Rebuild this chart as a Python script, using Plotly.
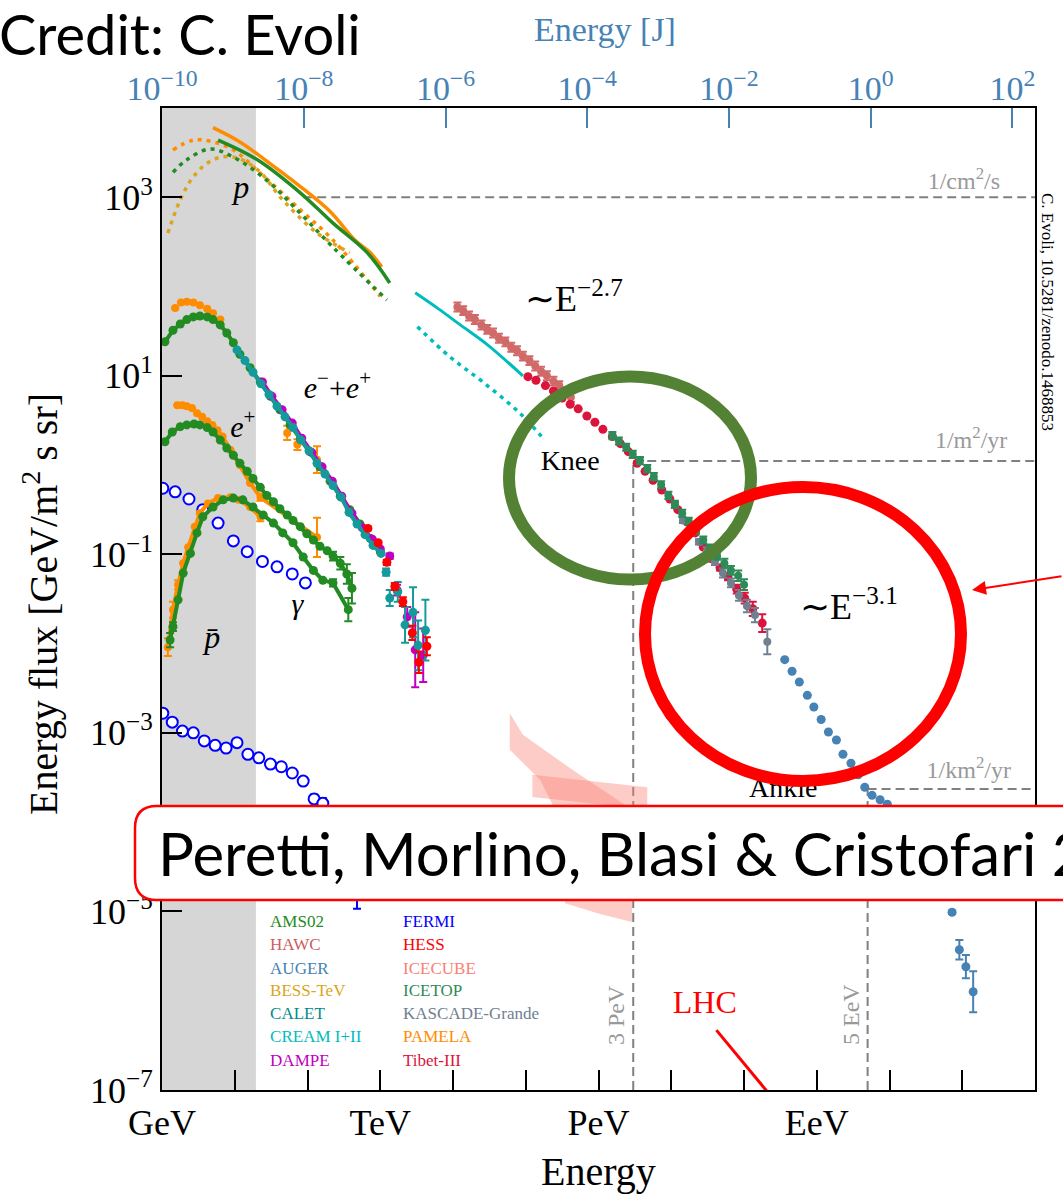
import plotly.graph_objects as go

SERIF = "Liberation Serif"
SANS = "Lato"

# ---------------- data: log10(E / GeV) and log10(energy flux / GeV m^-2 s^-1 sr^-1) ----------------
# protons (solid) and dotted curves
P_PAMELA_LGE = [0.70, 1.07, 1.48, 1.90, 2.31, 2.65, 2.86, 3.02]
P_PAMELA_LGF = [3.78, 3.62, 3.38, 3.12, 2.84, 2.52, 2.38, 2.22]
P_AMS_LGE = [0.77, 1.31, 1.90, 2.35, 2.82, 3.13]
P_AMS_LGF = [3.64, 3.42, 3.05, 2.71, 2.38, 2.04]
D_PAMELA_LGE = [0.15, 0.43, 0.70, 0.98, 1.35, 1.90, 2.35, 3.00]
D_PAMELA_LGF = [3.53, 3.64, 3.62, 3.53, 3.27, 2.86, 2.52, 1.89]
D_AMS_LGE = [0.15, 0.34, 0.66, 0.98, 1.44, 1.90, 2.35, 3.09]
D_AMS_LGF = [3.28, 3.42, 3.54, 3.45, 3.19, 2.82, 2.44, 1.85]
D_BESS_LGE = [0.08, 0.25, 0.43, 0.70, 0.98, 1.31, 1.66, 2.13, 2.58]
D_BESS_LGF = [2.60, 2.97, 3.23, 3.42, 3.45, 3.31, 2.97, 2.60, 2.38]
CREAM_S_LGE = [3.48, 3.80, 4.10, 4.47, 4.96]
CREAM_S_LGF = [1.93, 1.75, 1.57, 1.35, 1.00]
CREAM_D_LGE = [3.51, 3.96, 4.41, 4.92, 5.26]
CREAM_D_LGF = [1.55, 1.21, 0.93, 0.58, 0.28]

# all-particle spectrum
HAWC_LGE = [4.06, 4.14, 4.22, 4.30, 4.39, 4.47, 4.55, 4.63, 4.72, 4.80, 4.88, 4.96, 5.05, 5.13, 5.21, 5.29, 5.38, 5.46, 5.54, 5.62]
HAWC_LGF = [1.77, 1.73, 1.67, 1.63, 1.57, 1.52, 1.48, 1.42, 1.38, 1.32, 1.28, 1.22, 1.17, 1.11, 1.05, 1.00, 0.94, 0.89, 0.82, 0.76]
HAWC_ERR = [0.05] * 20
TIBET_LGE = [5.03, 5.14, 5.27, 5.38, 5.50, 5.61, 5.72, 5.84, 5.95, 6.06, 6.19, 6.30, 6.41, 6.53, 6.64, 6.75, 6.87, 6.98, 7.09, 7.22, 7.33, 7.44, 7.56, 7.67, 7.78, 7.90, 8.01, 8.12, 8.25]
TIBET_LGF = [0.99, 0.95, 0.89, 0.83, 0.75, 0.68, 0.63, 0.55, 0.48, 0.40, 0.32, 0.24, 0.15, 0.02, -0.07, -0.17, -0.28, -0.38, -0.50, -0.64, -0.76, -0.92, -1.05, -1.15, -1.25, -1.39, -1.49, -1.61, -1.77]
TIBET_ERR = [0.0] * 22 + [0.03, 0.03, 0.04, 0.05, 0.06, 0.08, 0.10]
ICETOP_LGE = [6.19, 6.28, 6.38, 6.47, 6.57, 6.67, 6.76, 6.86, 6.96, 7.05, 7.15, 7.24, 7.34, 7.44, 7.53, 7.63, 7.73, 7.82, 7.92, 8.00]
ICETOP_LGF = [0.33, 0.27, 0.20, 0.12, 0.05, -0.04, -0.13, -0.22, -0.34, -0.44, -0.54, -0.63, -0.73, -0.84, -0.93, -1.02, -1.10, -1.18, -1.24, -1.34]
ICETOP_ERR = [0.04] * 16 + [0.05, 0.05, 0.06, 0.06]
KASCADE_LGE = [7.05, 7.16, 7.27, 7.38, 7.49, 7.60, 7.71, 7.82, 7.93, 8.04, 8.15, 8.32]
KASCADE_LGF = [-0.45, -0.62, -0.75, -0.86, -0.96, -1.08, -1.21, -1.32, -1.46, -1.58, -1.68, -1.98]
KASCADE_ERR = [0.03, 0.03, 0.03, 0.03, 0.04, 0.04, 0.05, 0.05, 0.06, 0.07, 0.08, 0.14]
AUGER_LGE = [8.56, 8.66, 8.76, 8.87, 8.96, 9.06, 9.16, 9.27, 9.36, 9.47, 9.57, 9.66, 9.76, 9.87, 9.97, 10.08, 10.17, 10.28, 10.38, 10.48, 10.57, 10.67, 10.76, 10.86, 10.96, 11.05, 11.15]
AUGER_LGF = [-2.18, -2.31, -2.43, -2.58, -2.71, -2.85, -2.99, -3.08, -3.24, -3.34, -3.47, -3.61, -3.70, -3.75, -3.80, -3.89, -4.00, -4.11, -4.23, -4.37, -4.51, -4.65, -4.82, -5.01, -5.43, -5.62, -5.90]
AUGER_ERR = [0.0] * 23 + [0.02, 0.11, 0.13, 0.23]

# gamma rays (FERMI)
FERMI_DIF_LGE = [0.01, 0.18, 0.37, 0.56, 0.77, 0.98, 1.17, 1.38, 1.58, 1.79, 1.97]
FERMI_DIF_LGF = [-0.26, -0.30, -0.38, -0.50, -0.65, -0.85, -0.97, -1.08, -1.14, -1.22, -1.32]
FERMI_IGRB_LGE = [0.01, 0.14, 0.28, 0.43, 0.58, 0.73, 0.88, 1.03, 1.18, 1.33, 1.49, 1.64, 1.79, 1.94, 2.09, 2.21, 2.38, 2.53, 2.68]
FERMI_IGRB_LGF = [-2.78, -2.88, -2.98, -3.00, -3.09, -3.14, -3.17, -3.11, -3.24, -3.28, -3.35, -3.38, -3.45, -3.54, -3.74, -3.79, -3.98, -4.20, -4.59]
FERMI_IGRB_ERR = [0.04] * 14 + [0.05, 0.06, 0.10, 0.15, 0.38]

# electrons + positrons
EE_AMS_LGE = [0.04, 0.15, 0.25, 0.34, 0.43, 0.52, 0.62, 0.70, 0.80, 0.89, 0.98, 1.07, 1.21, 1.35, 1.49, 1.62, 1.76, 1.90, 2.03, 2.17, 2.31, 2.45, 2.58, 2.72, 2.86, 3.00]
EE_AMS_LGF = [1.38, 1.51, 1.58, 1.63, 1.66, 1.67, 1.66, 1.63, 1.57, 1.48, 1.37, 1.24, 1.09, 0.93, 0.77, 0.62, 0.45, 0.29, 0.15, -0.02, -0.18, -0.35, -0.50, -0.66, -0.82, -0.97]
EE_DAMPE_LGE = [1.38, 1.51, 1.65, 1.79, 1.92, 2.06, 2.20, 2.34, 2.47, 2.61, 2.75, 2.89, 3.00, 3.13, 3.23, 3.37, 3.48, 3.59]
EE_DAMPE_LGF = [0.93, 0.77, 0.62, 0.47, 0.30, 0.14, -0.02, -0.18, -0.35, -0.54, -0.70, -0.83, -0.94, -1.02, -1.40, -1.70, -2.07, -2.13]
EE_DAMPE_ERR = [0.0] * 12 + [0.02, 0.03, 0.06, 0.11, 0.42, 0.30]
EE_CALET_LGE = [1.03, 1.14, 1.25, 1.36, 1.47, 1.58, 1.69, 1.80, 1.91, 2.02, 2.13, 2.24, 2.35, 2.46, 2.57, 2.68, 2.79, 2.90, 3.01, 3.08, 3.13, 3.24, 3.34, 3.45, 3.52, 3.62]
EE_CALET_LGF = [1.29, 1.17, 1.04, 0.91, 0.79, 0.66, 0.54, 0.42, 0.28, 0.16, 0.02, -0.10, -0.23, -0.36, -0.53, -0.66, -0.78, -0.90, -0.99, -1.20, -1.49, -1.42, -1.79, -1.65, -2.02, -1.85]
EE_CALET_ERR = [0.0] * 19 + [0.04, 0.09, 0.11, 0.20, 0.28, 0.28, 0.34]
EE_HESS_LGE = [2.83, 2.97, 3.09, 3.20, 3.31, 3.44, 3.53, 3.64]
EE_HESS_LGF = [-0.71, -0.87, -1.09, -1.36, -1.53, -1.88, -2.21, -2.03]
EE_HESS_ERR = [0.02, 0.02, 0.03, 0.04, 0.05, 0.08, 0.12, 0.10]
EE_PAMELA_LGE = [0.18, 0.26, 0.34, 0.43, 0.52, 0.62, 0.70, 0.80, 1.72, 1.86, 2.13]
EE_PAMELA_LGF = [1.76, 1.82, 1.83, 1.82, 1.79, 1.75, 1.70, 1.63, 0.36, 0.23, 0.06]
EE_PAMELA_ERR = [0.0] * 8 + [0.08, 0.06, 0.15]

# positrons
POS_PAMELA_LGE = [0.21, 0.28, 0.34, 0.41, 0.48, 0.55, 0.62, 0.69, 0.76, 0.83, 0.94, 1.07, 1.21, 1.35, 2.13]
POS_PAMELA_LGF = [0.67, 0.67, 0.66, 0.64, 0.58, 0.54, 0.49, 0.45, 0.39, 0.32, 0.17, 0.00, -0.20, -0.36, -0.81]
POS_PAMELA_ERR = [0.0] * 13 + [0.04, 0.22]
POS_AMS_LGE = [0.04, 0.14, 0.25, 0.34, 0.44, 0.52, 0.62, 0.70, 0.80, 0.89, 0.98, 1.07, 1.17, 1.25, 1.35, 1.44, 1.53, 1.62, 1.72, 1.80, 1.90, 1.99, 2.08, 2.17, 2.27, 2.35, 2.45, 2.54, 2.61]
POS_AMS_LGF = [0.26, 0.37, 0.43, 0.45, 0.46, 0.45, 0.42, 0.37, 0.28, 0.19, 0.11, 0.02, -0.07, -0.15, -0.25, -0.34, -0.41, -0.49, -0.56, -0.62, -0.69, -0.77, -0.84, -0.91, -0.96, -1.02, -1.10, -1.22, -1.38]
POS_AMS_ERR = [0.0] * 25 + [0.05, 0.07, 0.11, 0.17]

# antiprotons
PBAR_PAMELA_LGE = [0.08, 0.15, 0.22, 0.29, 0.36, 0.45, 0.52, 0.63, 0.77, 0.94, 1.05, 1.21, 1.35]
PBAR_PAMELA_LGF = [-2.04, -1.62, -1.34, -1.10, -0.92, -0.69, -0.54, -0.43, -0.37, -0.36, -0.39, -0.47, -0.58]
PBAR_PAMELA_ERR = [0.10, 0.09, 0.05] + [0.0] * 9 + [0.05]
PBAR_AMS_LGE = [0.11, 0.15, 0.22, 0.29, 0.39, 0.48, 0.56, 0.70, 0.84, 0.98, 1.11, 1.25, 1.39, 1.53, 1.66, 1.80, 1.94, 2.08, 2.21, 2.35, 2.56]
PBAR_AMS_LGF = [-1.96, -1.81, -1.51, -1.21, -0.99, -0.76, -0.58, -0.47, -0.39, -0.37, -0.39, -0.47, -0.56, -0.65, -0.76, -0.87, -1.03, -1.18, -1.29, -1.32, -1.62]
PBAR_AMS_ERR = [0.08, 0.05] + [0.0] * 17 + [0.04, 0.13]

# neutrinos (ICECUBE bands)
ICE1_LGE = [4.78, 4.96, 5.65, 6.12, 6.46, 6.46, 6.02, 5.54, 5.40, 5.20, 4.78]
ICE1_LGF = [-2.78, -3.02, -3.42, -3.67, -3.86, -5.12, -5.03, -4.91, -3.86, -3.53, -3.19]
ICE2_LGE = [5.09, 6.67, 6.67, 5.09]
ICE2_LGF = [-3.47, -3.61, -3.86, -3.72]

# LHC line
LHC_LGE = [7.62, 8.33]
LHC_LGF = [-6.33, -7.03]

# reference levels
GRAY_BAND_LGE = [0.0, 1.29]
CM2S_LGE_START, CM2S_LGF = 1.94, 3.0
E_KNEE, M2YR_LGF = 3e6, 0.046
E_ANKLE, KM2YR_LGF = 5e9, -3.63

X_RANGE = [-0.001, 12.0]
Y_RANGE = [-7.001, 4.0]
J_RANGE = [-10.002, 2.32]

X_TICK_TEXT = {0: "GeV", 3: "TeV", 6: "PeV", 9: "EeV"}
Y_TICK_EXP = [-7, -5, -3, -1, 1, 3]
J_TICK_EXP = [-10, -8, -6, -4, -2, 0, 2]

LEG_COL1 = ["AMS02", "HAWC", "AUGER", "BESS-TeV", "CALET", "CREAM I+II", "DAMPE"]
LEG_COL1_COLORS = ["#228b22", "#cd5c5c", "#4682b4", "#daa520", "#008b8b", "#00bcbc", "#bf00bf"]
LEG_COL2 = ["FERMI", "HESS", "ICECUBE", "ICETOP", "KASCADE-Grande", "PAMELA", "Tibet-III"]
LEG_COL2_COLORS = ["#0000ff", "#ff0000", "#fa8072", "#2e8b57", "#708090", "#ff8c00", "#dc143c"]
LEG_ROWS_LGF = [-5.13, -5.39, -5.65, -5.90, -6.16, -6.42, -6.68]

C_AMS, C_PAMELA, C_BESS = "#228b22", "#ff8c00", "#daa520"
C_CREAM, C_CALET, C_DAMPE = "#00bcbc", "#149a9a", "#c000c0"
C_HAWC, C_TIBET, C_ICETOP, C_KASCADE, C_AUGER = "#d06a68", "#dc143c", "#2e8b57", "#708090", "#4682b4"


def lin(vals):
    return [10 ** v for v in vals]


def errs(lgf, lge):
    plus = [10 ** (f + e) - 10 ** f for f, e in zip(lgf, lge)]
    minus = [10 ** f - 10 ** (f - e) for f, e in zip(lgf, lge)]
    return plus, minus


fig = go.Figure()


def add_line(lgE, lgF, color, width=3, dash=None, spline=True):
    fig.add_trace(go.Scatter(
        x=lin(lgE), y=lin(lgF), mode="lines",
        line=dict(color=color, width=width, dash=dash, shape="spline" if spline else "linear"),
        showlegend=False, hoverinfo="skip"))


def add_points(lgE, lgF, color, size=8, err=None, join=False, open_marker=False):
    kw = {}
    if err is not None:
        p, m = errs(lgF, err)
        kw["error_y"] = dict(type="data", symmetric=False, array=p, arrayminus=m,
                             color=color, thickness=2, width=4)
    if open_marker:
        marker = dict(size=size, color="white", line=dict(color=color, width=2))
    else:
        marker = dict(size=size, color=color, line=dict(width=0))
    fig.add_trace(go.Scatter(
        x=lin(lgE), y=lin(lgF), mode="lines+markers" if join else "markers",
        line=dict(color=color, width=4), marker=marker,
        showlegend=False, hoverinfo="skip", **kw))


def add_fill(lgE, lgF, color):
    fig.add_trace(go.Scatter(
        x=lin(lgE), y=lin(lgF), mode="lines", fill="toself", fillcolor=color,
        line=dict(width=0), showlegend=False, hoverinfo="skip"))


def label(lgE, lgF, text, size, color="black", pos="middle center", family=SERIF):
    fig.add_trace(go.Scatter(
        x=[10 ** lgE], y=[10 ** lgF], mode="text", text=[text], textposition=pos,
        textfont=dict(family=family, size=size, color=color),
        showlegend=False, hoverinfo="skip"))


# gray band
add_fill([GRAY_BAND_LGE[0], GRAY_BAND_LGE[1], GRAY_BAND_LGE[1], GRAY_BAND_LGE[0]],
         [Y_RANGE[0], Y_RANGE[0], Y_RANGE[1], Y_RANGE[1]], "#d6d6d6")

# dashed reference lines
DASH = dict(color="#808080", width=2, dash="9px,5px")
ref_lines = [
    ([10 ** CM2S_LGE_START, 10 ** X_RANGE[1]], [10 ** CM2S_LGF] * 2),
    ([E_KNEE, 10 ** X_RANGE[1]], [10 ** M2YR_LGF] * 2),
    ([E_KNEE, E_KNEE], [10 ** Y_RANGE[0], 10 ** M2YR_LGF]),
    ([E_ANKLE, 10 ** X_RANGE[1]], [10 ** KM2YR_LGF] * 2),
    ([E_ANKLE, E_ANKLE], [10 ** Y_RANGE[0], 10 ** KM2YR_LGF]),
]
for xs, ys in ref_lines:
    fig.add_trace(go.Scatter(x=xs, y=ys, mode="lines", line=DASH, showlegend=False, hoverinfo="skip"))

# ICECUBE
add_fill(ICE1_LGE, ICE1_LGF, "rgba(250,128,114,0.40)")
add_fill(ICE2_LGE, ICE2_LGF, "rgba(250,128,114,0.40)")

# protons
DOT = "4px,5px"
add_line(D_BESS_LGE, D_BESS_LGF, C_BESS, 3.5, DOT)
add_line(D_PAMELA_LGE, D_PAMELA_LGF, C_PAMELA, 3.5, DOT)
add_line(D_AMS_LGE, D_AMS_LGF, C_AMS, 3.5, DOT)
add_line(P_PAMELA_LGE, P_PAMELA_LGF, C_PAMELA, 3.5)
add_line(P_AMS_LGE, P_AMS_LGF, C_AMS, 3.5)
add_line(CREAM_S_LGE, CREAM_S_LGF, C_CREAM, 3)
add_line(CREAM_D_LGE, CREAM_D_LGF, C_CREAM, 3.5, DOT)

# gamma
add_points(FERMI_DIF_LGE, FERMI_DIF_LGF, "#0000ff", size=11, open_marker=True)
add_points(FERMI_IGRB_LGE, FERMI_IGRB_LGF, "#0000ff", size=11, err=FERMI_IGRB_ERR, open_marker=True)

# antiprotons
add_points(PBAR_PAMELA_LGE, PBAR_PAMELA_LGF, C_PAMELA, size=8, err=PBAR_PAMELA_ERR, join=True)
add_points(PBAR_AMS_LGE, PBAR_AMS_LGF, C_AMS, size=9, err=PBAR_AMS_ERR, join=True)

# positrons
add_points(POS_PAMELA_LGE, POS_PAMELA_LGF, C_PAMELA, size=8, err=POS_PAMELA_ERR, join=True)
add_points(POS_AMS_LGE, POS_AMS_LGF, C_AMS, size=9, err=POS_AMS_ERR, join=True)

# electrons + positrons
add_points(EE_PAMELA_LGE, EE_PAMELA_LGF, C_PAMELA, size=8, err=EE_PAMELA_ERR)
add_points(EE_AMS_LGE, EE_AMS_LGF, C_AMS, size=9, join=True)
N_DAMPE_DENSE, N_CALET_DENSE = 13, 19
add_points(EE_DAMPE_LGE[:N_DAMPE_DENSE], EE_DAMPE_LGF[:N_DAMPE_DENSE], C_DAMPE, size=9, join=True)
add_points(EE_DAMPE_LGE[N_DAMPE_DENSE:], EE_DAMPE_LGF[N_DAMPE_DENSE:], C_DAMPE, size=9,
           err=EE_DAMPE_ERR[N_DAMPE_DENSE:])
add_points(EE_CALET_LGE[:N_CALET_DENSE], EE_CALET_LGF[:N_CALET_DENSE], C_CALET, size=9, join=True)
add_points(EE_CALET_LGE[N_CALET_DENSE:], EE_CALET_LGF[N_CALET_DENSE:], C_CALET, size=9,
           err=EE_CALET_ERR[N_CALET_DENSE:])
add_points(EE_HESS_LGE, EE_HESS_LGF, "#ff0000", size=9, err=EE_HESS_ERR)

# all particle
add_points(HAWC_LGE, HAWC_LGF, C_HAWC, size=8, err=HAWC_ERR)
add_points(TIBET_LGE, TIBET_LGF, C_TIBET, size=9, err=TIBET_ERR)
add_points(KASCADE_LGE, KASCADE_LGF, C_KASCADE, size=8, err=KASCADE_ERR)
add_points(ICETOP_LGE, ICETOP_LGF, C_ICETOP, size=8, err=ICETOP_ERR)
add_points(AUGER_LGE, AUGER_LGF, C_AUGER, size=9, err=AUGER_ERR)

# LHC
add_line(LHC_LGE, LHC_LGF, "#ff0000", 3, spline=False)

# labels in the plot
label(1.09, 3.08, "<i>p</i>", 32)
label(2.41, 0.84, "<i>e</i><sup>−</sup>+<i>e</i><sup>+</sup>", 30)
label(1.11, 0.40, "<i>e</i><sup>+</sup>", 30)
label(1.86, -1.59, "<i>γ</i>", 30)
label(0.69, -1.96, "<i>p\u0304</i>", 32)
label(4.99, 1.83, "∼E<sup>−2.7</sup>", 36, pos="middle right")
label(5.61, 0.02, "Knee", 28)
label(8.77, -1.62, "∼E<sup>−3.1</sup>", 36, pos="middle right")
label(8.54, -3.64, "Ankle", 28)
label(11.52, 3.16, "1/cm<sup>2</sup>/s", 24, color="#999999", pos="middle left")
label(11.62, 0.26, "1/m<sup>2</sup>/yr", 24, color="#999999", pos="middle left")
label(11.67, -3.44, "1/km<sup>2</sup>/yr", 24, color="#999999", pos="middle left")
label(7.46, -6.05, "LHC", 32, color="#ff0000")

for col_lge, names, colors in ((1.485, LEG_COL1, LEG_COL1_COLORS), (3.313, LEG_COL2, LEG_COL2_COLORS)):
    fig.add_trace(go.Scatter(
        x=[10 ** col_lge] * len(names), y=lin(LEG_ROWS_LGF), mode="text", text=names,
        textposition="middle right", textfont=dict(family=SERIF, size=17, color=colors),
        showlegend=False, hoverinfo="skip"))

# dummy trace for top axis
fig.add_trace(go.Scatter(x=[], y=[], xaxis="x2", yaxis="y", showlegend=False, hoverinfo="skip"))

# ---------------- layout ----------------
PL, PT, PW, PH = 162, 108, 873, 982


def xp(px):
    return (px - PL) / PW


def yp(py):
    return (PT + PH - py) / PH


x_tickvals = [10 ** i for i in range(13)]
x_ticktext = [X_TICK_TEXT.get(i, "") for i in range(13)]

fig.update_layout(
    width=1063, height=1203, autosize=False,
    margin=dict(l=PL, r=1063 - PL - PW, t=PT, b=1203 - PT - PH),
    paper_bgcolor="white", plot_bgcolor="white", showlegend=False,
    font=dict(family=SERIF, color="black"),
    xaxis=dict(type="log", range=X_RANGE, tickmode="array", tickvals=x_tickvals, ticktext=x_ticktext,
               ticks="inside", ticklen=20, tickwidth=2, tickcolor="black",
               showline=True, linewidth=2, linecolor="black", mirror=True,
               showgrid=False, zeroline=False, tickfont=dict(family=SERIF, size=36, color="black")),
    yaxis=dict(type="log", range=Y_RANGE, tickmode="array", tickvals=[10.0 ** e for e in Y_TICK_EXP],
               ticktext=["10<sup>%s</sup>" % (str(e).replace("-", "−")) for e in Y_TICK_EXP],
               ticks="inside", ticklen=20, tickwidth=2, tickcolor="black",
               showline=True, linewidth=2, linecolor="black", mirror=True,
               showgrid=False, zeroline=False, tickfont=dict(family=SERIF, size=36, color="black")),
    xaxis2=dict(type="log", overlaying="x", side="top", anchor="y", range=J_RANGE, tickmode="array",
                tickvals=[10.0 ** e for e in J_TICK_EXP],
                ticktext=["10<sup>%s</sup>" % (str(e).replace("-", "−")) for e in J_TICK_EXP],
                ticks="inside", ticklen=20, tickwidth=2, tickcolor="#4682b4",
                showline=False, showgrid=False, zeroline=False,
                tickfont=dict(family=SERIF, size=34, color="#4682b4")),
)

ann = []
ann.append(dict(text="Energy", x=xp(598), y=yp(1172), xref="paper", yref="paper", showarrow=False,
                font=dict(family=SERIF, size=40, color="black"), xanchor="center", yanchor="middle"))
ann.append(dict(text="Energy [J]", x=xp(605), y=yp(30), xref="paper", yref="paper", showarrow=False,
                font=dict(family=SERIF, size=34, color="#4682b4"), xanchor="center", yanchor="middle"))
ann.append(dict(text="Energy flux [GeV/m<sup>2</sup> s sr]", x=xp(40), y=yp(604), xref="paper", yref="paper",
                showarrow=False, textangle=-90, font=dict(family=SERIF, size=40, color="black"),
                xanchor="center", yanchor="middle"))
ann.append(dict(text="3 PeV", x=xp(616), y=yp(1015), xref="paper", yref="paper", showarrow=False,
                textangle=-90, font=dict(family=SERIF, size=24, color="#999999"), xanchor="center", yanchor="middle"))
ann.append(dict(text="5 EeV", x=xp(851), y=yp(1015), xref="paper", yref="paper", showarrow=False,
                textangle=-90, font=dict(family=SERIF, size=24, color="#999999"), xanchor="center", yanchor="middle"))
ann.append(dict(text="C. Evoli, 10.5281/zenodo.1468853", x=xp(1048), y=yp(312), xref="paper", yref="paper",
                showarrow=False, textangle=90, font=dict(family=SERIF, size=17, color="black"),
                xanchor="center", yanchor="middle"))
ann.append(dict(text="Credit: C. Evoli", x=xp(-3), y=yp(33), xref="paper", yref="paper", showarrow=False,
                font=dict(family=SANS, size=56, color="black"), xanchor="left", yanchor="middle"))
ann.append(dict(text="Peretti, Morlino, Blasi &amp; Cristofari 2024", x=xp(156), y=yp(853), xref="paper",
                yref="paper", showarrow=False, font=dict(family=SANS, size=60, color="black"),
                xanchor="left", yanchor="middle"))
ann.append(dict(text="E", x=xp(1059), y=yp(628), xref="paper", yref="paper", showarrow=False,
                font=dict(family=SANS, size=34, color="black"), xanchor="left", yanchor="middle"))
ann.append(dict(text="", x=xp(972), y=yp(590), xref="paper", yref="paper", showarrow=True,
                ax=100, ay=-14, arrowcolor="#ff0000", arrowwidth=2, arrowhead=2, arrowsize=1.4))
fig.update_layout(annotations=ann)


def rounded_rect(x0, y0, x1, y1, r):
    def P(x, y):
        return "%.5f,%.5f" % (xp(x), yp(y))
    return ("M " + P(x0 + r, y0) + " L " + P(x1 - r, y0) + " Q " + P(x1, y0) + " " + P(x1, y0 + r) +
            " L " + P(x1, y1 - r) + " Q " + P(x1, y1) + " " + P(x1 - r, y1) +
            " L " + P(x0 + r, y1) + " Q " + P(x0, y1) + " " + P(x0, y1 - r) +
            " L " + P(x0, y0 + r) + " Q " + P(x0, y0) + " " + P(x0 + r, y0) + " Z")


shapes = [
    dict(type="circle", xref="paper", yref="paper", x0=xp(509), x1=xp(751), y0=yp(579.5), y1=yp(376.5),
         line=dict(color="#548235", width=12), layer="above"),
    dict(type="circle", xref="paper", yref="paper", x0=xp(645), x1=xp(961), y0=yp(781), y1=yp(487),
         line=dict(color="#ff0000", width=12), layer="above"),
    dict(type="path", xref="paper", yref="paper", path=rounded_rect(135, 806, 1085, 900, 22),
         line=dict(color="#ff0000", width=2.5), fillcolor="white", layer="above"),
]
fig.update_layout(shapes=shapes)

fig.write_html("out.html", include_plotlyjs=True, config={"displayModeBar": False})
